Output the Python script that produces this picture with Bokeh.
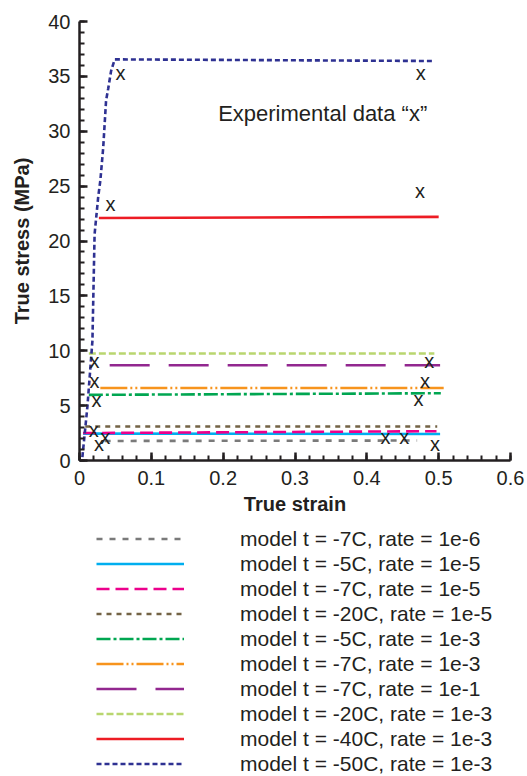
from bokeh.plotting import figure
from bokeh.layouts import column
from bokeh.models import Legend, LegendItem, FixedTicker, Label
from bokeh.core.properties import value
from bokeh.embed import file_html
from bokeh.resources import INLINE

# ---- data ----
labels = [
    "model t = -7C, rate = 1e-6",
    "model t = -5C, rate = 1e-5",
    "model t = -7C, rate = 1e-5",
    "model t = -20C, rate = 1e-5",
    "model t = -5C, rate = 1e-3",
    "model t = -7C, rate = 1e-3",
    "model t = -7C, rate = 1e-1",
    "model t = -20C, rate = 1e-3",
    "model t = -40C, rate = 1e-3",
    "model t = -50C, rate = 1e-3",
]
strain_start = [0.035, 0.005, 0.005, 0.008, 0.013, 0.029, 0.042, 0.013, 0.027]
strain_end = [0.470, 0.502, 0.497, 0.498, 0.503, 0.507, 0.502, 0.494, 0.500]
stress_start = [1.78, 2.45, 2.50, 3.10, 5.98, 6.60, 8.68, 9.75, 22.10]
stress_end = [1.82, 2.42, 2.67, 3.10, 6.13, 6.60, 8.68, 9.75, 22.20]

m50_strain = [0.004, 0.011, 0.018, 0.021, 0.026, 0.029, 0.033, 0.037, 0.040, 0.044, 0.049, 0.200, 0.493]
m50_stress = [0.3, 4.9, 10.9, 20.6, 24.0, 25.5, 28.5, 32.8, 33.9, 35.5, 36.55, 36.5, 36.4]

exp_strain = [0.057, 0.475, 0.043, 0.474, 0.021, 0.021, 0.0235, 0.020, 0.036, 0.027,
              0.487, 0.481, 0.472, 0.426, 0.452, 0.495]
exp_stress = [35.3, 35.3, 23.4, 24.6, 9.05, 7.23, 5.5, 2.8, 2.13, 1.46,
              9.1, 7.23, 5.62, 2.13, 2.13, 1.46]

x_ticks = [0, 0.1, 0.2, 0.3, 0.4, 0.5, 0.6]
x_tick_labels = ["0", "0.1", "0.2", "0.3", "0.4", "0.5", "0.6"]
y_ticks = [0, 5, 10, 15, 20, 25, 30, 35, 40]
y_tick_labels = ["0", "5", "10", "15", "20", "25", "30", "35", "40"]

# ---- styles ----
colors = ["#7a7a7a", "#00AEEF", "#EC008C", "#736345", "#00A651",
          "#F7941D", "#92278F", "#B9D66F", "#ED1C24", "#2E3192"]
dashes = ["6 7", "solid", "13 6", "5 5", "14 3 3 3",
          "27 3 2 3 2 3", "40 19", "7 3", "solid", "5 3"]

FONT = "Liberation Sans"
INK = "#231F20"
LW = 2.6


def draw_series(fig):
    rs = []
    for i in range(9):
        rs.append(fig.line([strain_start[i], strain_end[i]], [stress_start[i], stress_end[i]],
                           line_color=colors[i], line_width=LW, line_dash=dashes[i]))
    rs.append(fig.line(m50_strain, m50_stress, line_color=colors[9], line_width=LW,
                       line_dash=dashes[9]))
    return rs


p = figure(width=527, height=521, x_range=(0, 0.6), y_range=(0, 40),
           output_backend="svg", toolbar_location=None,
           min_border_left=79, min_border_top=21, min_border_right=17,
           min_border_bottom=61)
p.grid.visible = False
p.outline_line_color = None

draw_series(p)

p.text(x=exp_strain, y=exp_stress, text=["x"] * len(exp_strain),
       text_align="center", text_baseline="alphabetic", y_offset=0,
       text_font=value(FONT), text_font_size="20px", text_color=INK)

p.add_layout(Label(x=0.193, y=31.6, text="Experimental data \u201cx\u201d",
                   text_baseline="middle", text_align="left",
                   text_font=FONT, text_font_size="22px", text_color=INK))

xminor = [round(i * 0.02, 2) for i in range(31)]
yminor = list(range(41))
p.xaxis.ticker = FixedTicker(ticks=x_ticks, minor_ticks=xminor)
p.yaxis.ticker = FixedTicker(ticks=y_ticks, minor_ticks=yminor)
p.xaxis.major_label_overrides = dict(zip(x_ticks, x_tick_labels))
p.yaxis.major_label_overrides = dict(zip(y_ticks, y_tick_labels))

for ax in (p.xaxis[0], p.yaxis[0]):
    ax.axis_line_color = INK
    ax.axis_line_width = 2.5
    ax.major_tick_in = 8
    ax.major_tick_out = 0
    ax.minor_tick_in = 5
    ax.minor_tick_out = 0
    ax.major_tick_line_color = INK
    ax.minor_tick_line_color = INK
    ax.major_tick_line_width = 2.5
    ax.minor_tick_line_width = 2
    ax.major_label_text_font = FONT
    ax.major_label_text_font_size = "20px"
    ax.major_label_text_color = INK
    ax.axis_label_text_font = FONT
    ax.axis_label_text_font_size = "20px"
    ax.axis_label_text_font_style = "bold"
    ax.axis_label_text_color = INK

p.xaxis.axis_label = "True strain"
p.yaxis.axis_label = "True stress (MPa)"
p.xaxis.major_label_standoff = 10
p.xaxis.axis_label_standoff = 5
p.yaxis.major_label_standoff = 9
p.yaxis.axis_label_standoff = 12
p.yaxis.major_label_orientation = "horizontal"

# ---- legend panel: same series, view range kept off the data so only keys show ----
leg = figure(width=527, height=255, x_range=(0, 1), y_range=(100, 101),
             output_backend="svg", toolbar_location=None,
             x_axis_location=None, y_axis_location=None,
             min_border_left=79, min_border_top=0, min_border_right=17,
             min_border_bottom=0)
leg.grid.visible = False
leg.outline_line_color = None

leg_renderers = draw_series(leg)
items = [LegendItem(label=labels[i], renderers=[leg_renderers[i]]) for i in range(10)]

legend = Legend(items=items, location=(17, 0), orientation="vertical",
                glyph_width=88, glyph_height=25, label_height=25, spacing=0,
                label_standoff=56, padding=0, margin=0,
                border_line_alpha=0, background_fill_alpha=0,
                label_text_font=FONT, label_text_font_size="21px",
                label_text_color=INK)
leg.add_layout(legend)

layout = column(p, leg, spacing=0)
open("out.html", "w").write(file_html(layout, INLINE))
